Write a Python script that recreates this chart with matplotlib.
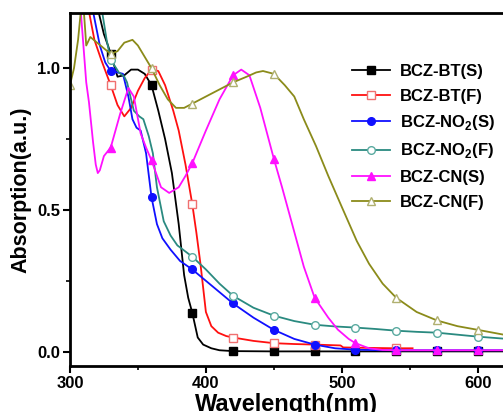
import numpy as np
import matplotlib
matplotlib.use('Agg')
import matplotlib.pyplot as plt

plt.rcParams['font.family'] = 'Liberation Sans'
plt.rcParams['font.weight'] = 'bold'
plt.rcParams['mathtext.fontset'] = 'custom'
plt.rcParams['mathtext.bf'] = 'Liberation Sans:bold'
plt.rcParams['mathtext.rm'] = 'Liberation Sans:bold'

# BCZ-BT(S)
wl_bt_s = [310, 316, 321, 325, 328, 330, 335, 340, 345, 350, 355, 360, 365, 370, 375, 380,
           384, 387, 390, 394, 398, 404, 410, 420, 450, 480, 510, 540, 570, 600, 619]
ab_bt_s = [1.6, 1.4, 1.2, 1.12, 1.08, 1.05, 0.97, 0.975, 0.995, 0.995, 0.98, 0.94, 0.85, 0.75,
           0.63, 0.45, 0.27, 0.19, 0.137, 0.05, 0.025, 0.012, 0.005, 0.002, 0.001, 0.001,
           0.001, 0.001, 0.001, 0.001, 0.001]

# BCZ-BT(F)
wl_bt_f = [305, 310, 314, 318, 323, 330, 335, 340, 345, 350, 355, 360, 365, 370, 376, 380,
           385, 390, 393, 396, 400, 404, 409, 415, 420, 435, 450, 465, 480, 499, 501, 525,
           540, 552]
ab_bt_f = [1.6, 1.35, 1.2, 1.1, 1.03, 0.94, 0.87, 0.83, 0.86, 0.92, 0.965, 0.995, 0.99, 0.94,
           0.85, 0.78, 0.66, 0.52, 0.42, 0.31, 0.14, 0.09, 0.067, 0.055, 0.05, 0.038, 0.03,
           0.027, 0.025, 0.022, 0.015, 0.013, 0.012, 0.012]

# BCZ-NO2(S)
wl_no2_s = [310, 314, 317, 322, 326, 330, 335, 339, 343, 346, 349, 352, 356, 360, 364, 368,
            374, 381, 390, 400, 410, 420, 435, 450, 465, 480, 495, 510, 530, 540, 570, 600, 619]
ab_no2_s = [1.6, 1.35, 1.2, 1.08, 1.02, 0.99, 0.985, 0.98, 0.90, 0.82, 0.79, 0.78, 0.70, 0.545,
            0.45, 0.40, 0.36, 0.32, 0.29, 0.25, 0.21, 0.17, 0.12, 0.077, 0.045, 0.025, 0.012,
            0.007, 0.005, 0.005, 0.005, 0.005, 0.005]

# BCZ-NO2(F)
wl_no2_f = [315, 320, 324, 327, 330, 336, 340, 342, 347, 351, 354, 358, 361, 364, 369, 374,
            379, 390, 400, 410, 420, 435, 450, 465, 480, 495, 510, 525, 540, 555, 570, 585,
            600, 619]
ab_no2_f = [1.6, 1.35, 1.19, 1.1, 1.03, 0.985, 0.97, 0.95, 0.85, 0.83, 0.82, 0.76, 0.70, 0.58,
            0.46, 0.41, 0.375, 0.335, 0.29, 0.24, 0.197, 0.155, 0.127, 0.108, 0.095, 0.089,
            0.085, 0.08, 0.074, 0.07, 0.067, 0.06, 0.053, 0.046]

# BCZ-CN(S)
wl_cn_s = [305, 308, 312, 314, 317, 319, 320.5, 322, 325, 330, 337, 343, 347, 352, 356, 360,
           367, 373, 380, 385, 390, 400, 410, 420, 426, 432, 440, 450, 456, 462, 472, 480,
           490, 497, 505, 510, 520, 530, 540, 570, 600, 619]
ab_cn_s = [1.6, 1.2, 0.95, 0.88, 0.74, 0.66, 0.63, 0.64, 0.69, 0.72, 0.84, 0.93, 0.90, 0.77,
           0.72, 0.675, 0.58, 0.56, 0.58, 0.62, 0.665, 0.78, 0.89, 0.975, 0.995, 0.975, 0.86,
           0.68, 0.58, 0.475, 0.30, 0.19, 0.12, 0.078, 0.045, 0.03, 0.012, 0.006, 0.005,
           0.005, 0.005, 0.005]

# BCZ-CN(F)
wl_cn_f = [300, 303, 306, 308, 309.5, 311, 312, 315, 320, 325, 330, 335, 340, 346, 350, 355,
           360, 366, 372, 378, 384, 390, 400, 410, 420, 430, 437, 442, 450, 458, 465, 472,
           481, 490, 500, 511, 520, 530, 540, 555, 570, 585, 600, 619]
ab_cn_f = [0.94, 1.0, 1.1, 1.2, 1.25, 1.15, 1.08, 1.11, 1.09, 1.07, 1.05, 1.06, 1.09, 1.10,
           1.08, 1.04, 1.0, 0.94, 0.89, 0.86, 0.86, 0.875, 0.9, 0.925, 0.95, 0.97, 0.985, 0.99,
           0.98, 0.94, 0.90, 0.82, 0.725, 0.62, 0.51, 0.39, 0.31, 0.24, 0.19, 0.14, 0.11, 0.09,
           0.077, 0.06]

labels = ['BCZ-BT(S)', 'BCZ-BT(F)', r'BCZ-NO$_\mathbf{2}$(S)', r'BCZ-NO$_\mathbf{2}$(F)',
          'BCZ-CN(S)', 'BCZ-CN(F)']

series = [
    (wl_bt_s, ab_bt_s, 'black', 's', 'black', 'black'),
    (wl_bt_f, ab_bt_f, '#ff1010', 's', 'white', '#f07070'),
    (wl_no2_s, ab_no2_s, '#1010ff', 'o', '#1010ff', '#1010ff'),
    (wl_no2_f, ab_no2_f, '#2a8a80', 'o', 'white', '#5aaaa0'),
    (wl_cn_s, ab_cn_s, '#ff10ff', '^', '#ff10ff', '#ff10ff'),
    (wl_cn_f, ab_cn_f, '#8b8b1a', '^', 'white', '#b0b070'),
]

fig = plt.figure(figsize=(5.03, 4.12), dpi=100)
ax = fig.add_axes([0.139, 0.112, 0.861, 0.856])

for (wl, ab, col, mk, fc, ec), lab in zip(series, labels):
    wl = np.array(wl)
    idx = [i for i in range(len(wl)) if wl[i] % 30 == 0]
    ax.plot(wl, ab, color=col, lw=1.3, marker=mk, markevery=idx, ms=5.5,
            mfc=fc, mec=ec, mew=1.0, label=lab)

ax.set_xlim(300, 618.5)
ax.set_ylim(-0.05, 1.194)
ax.set_xticks([300, 400, 500, 600])
ax.set_xticks([350, 450, 550], minor=True)
ax.set_yticks([0.0, 0.5, 1.0])
ax.set_yticks([0.25, 0.75], minor=True)
ax.tick_params(which='major', direction='out', length=5, width=1.5, labelsize=12, pad=2)
ax.tick_params(which='minor', direction='out', length=3, width=1.2)
for s in ['left', 'bottom', 'top']:
    ax.spines[s].set_linewidth(2)
ax.spines['right'].set_visible(False)

ax.set_xlabel('Wavelength(nm)', fontsize=17, fontweight='bold', labelpad=2)
ax.set_ylabel('Absorption(a.u.)', fontsize=15.5, fontweight='bold', labelpad=4)

ax.legend(loc='upper left', bbox_to_anchor=(352 / 503, 1 - 64 / 412),
          bbox_transform=fig.transFigure, frameon=False,
          handlelength=2.3, handletextpad=0.6, labelspacing=0.57,
          borderpad=0, borderaxespad=0, prop={'weight': 'bold', 'size': 12})

fig.savefig('out.png', dpi=100)
